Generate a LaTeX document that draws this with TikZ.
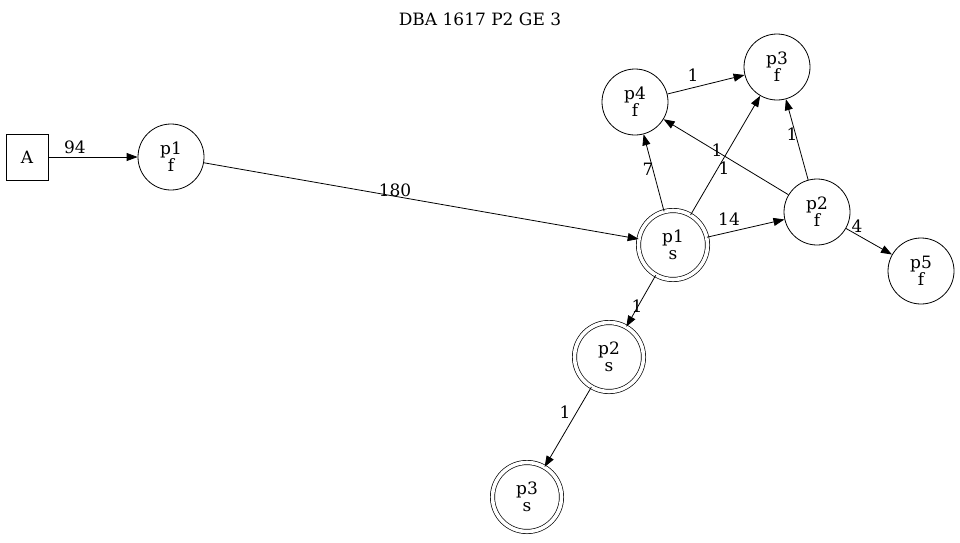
\documentclass[tikz,border=0pt]{standalone}
\usepackage{fontspec}
\setmainfont{DejaVu Serif}
\usetikzlibrary{arrows.meta}
\begin{document}
\begin{tikzpicture}[x=1pt,y=-1pt,
  every node/.style={font=\fontsize{17}{17}\selectfont},
  state/.style={circle,draw,line width=0.8pt,minimum size=66pt,inner sep=0pt,align=center},
  final/.style={circle,draw,line width=0.7pt,double,double distance=3.6pt,minimum size=69pt,inner sep=0pt,align=center},
  start/.style={rectangle,draw,line width=0.8pt,minimum width=42pt,minimum height=46pt,inner sep=0pt},
  edge/.style={-{Triangle[length=11pt,width=8pt]},line width=0.8pt},
  lbl/.style={inner sep=0pt}
]
\useasboundingbox (0,0) rectangle (960,542);
\node[inner sep=0pt] (title) at (480,19) {DBA 1617 P2 GE 3};

\node[start] (A) at (27,157) {A};
\node[state] (p1f) at (171,157) {p1\\f};
\node[final] (p1s) at (673,245) {p1\\s};
\node[state] (p4f) at (635,102) {p4\\f};
\node[state] (p3f) at (777,67) {p3\\f};
\node[state] (p2f) at (817,212) {p2\\f};
\node[state] (p5f) at (921,271) {p5\\f};
\node[final] (p2s) at (609,357) {p2\\s};
\node[final] (p3s) at (527,497) {p3\\s};

\draw[edge] (A) -- (p1f);
\draw[edge] (p1f) -- (p1s);
\draw[edge] (p1s) -- (p4f);
\draw[edge] (p1s) -- (p3f);
\draw[edge] (p1s) -- (p2f);
\draw[edge] (p4f) -- (p3f);
\draw[edge] (p2f) -- (p4f);
\draw[edge] (p2f) -- (p3f);
\draw[edge] (p2f) -- (p5f);
\draw[edge] (p1s) -- (p2s);
\draw[edge] (p2s) -- (p3s);

\node[lbl] (l94) at (75,147) {94};
\node[lbl] (l180) at (395,190) {180};
\node[lbl] (l7) at (648,169) {7};
\node[lbl] (l13a) at (724,168) {1};
\node[lbl] (l24) at (717,150) {1};
\node[lbl] (l14) at (729,219) {14};
\node[lbl] (l23) at (792,134) {1};
\node[lbl] (l4) at (857,226) {4};
\node[lbl] (l43) at (693,75) {1};
\node[lbl] (l12s) at (637,306) {1};
\node[lbl] (l23s) at (565,412) {1};
\end{tikzpicture}
\end{document}
